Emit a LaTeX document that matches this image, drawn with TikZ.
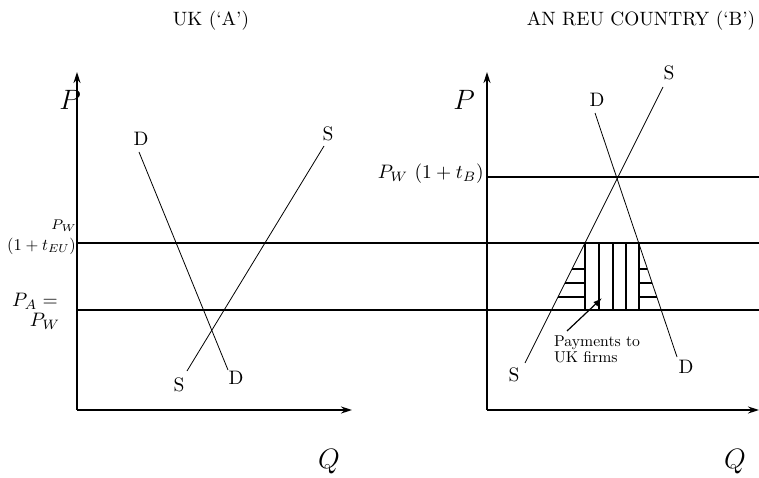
\RequirePackage{fix-cm}
\documentclass[tikz,border=0pt]{standalone}
\usepackage{graphicx}
\usetikzlibrary{arrows.meta}
\newcommand{\sclA}[1]{\scalebox{1.93}{#1}}
\newcommand{\sclB}[1]{\scalebox{1.95}{#1}}
\newcommand{\sclC}[1]{\scalebox{1.57}{#1}}
\newcommand{\sclD}[1]{\scalebox{1.65}{#1}}
\newcommand{\sclE}[1]{\scalebox{2.0}{#1}}
\tikzset{
  axisline/.style={line width=1.6pt,-{Stealth[length=11pt,width=7pt]}},
  thickline/.style={line width=2.4pt},
  thinline/.style={line width=1.3pt},
  curveline/.style={line width=0.8pt},
  hatchline/.style={line width=1.8pt},
  lbl/.style={inner sep=0pt},
  biglbl/.style={font=\fontsize{28}{30}\selectfont,inner sep=0pt},
  ptr/.style={line width=1.2pt,-{Latex[length=9pt,width=6pt]}}
}
\begin{document}
\begin{tikzpicture}[x=1pt,y=-1pt]
\useasboundingbox (0,0) rectangle (759,478);
% titles
\node[lbl] (tA) at (211,21) {\sclA{UK (`A')}};
\node[lbl] (tB) at (641,21) {\sclA{AN REU COUNTRY (`B')}};
% axes
\coordinate (O1) at (77,410);
\coordinate (Y1) at (77,72);
\coordinate (X1) at (352,410);
\coordinate (O2) at (487,410);
\coordinate (Y2) at (487,72);
\coordinate (X2) at (759,410);
\draw[axisline] (O1) -- (Y1);
\draw[axisline] (O1) -- (X1);
\draw[axisline] (O2) -- (Y2);
\draw[axisline] (O2) -- (X2);
\node[biglbl] (P1) at (70,100) {$P$};
\node[biglbl] (Q1) at (329,462) {$Q$};
\node[biglbl] (P2) at (464,100) {$P$};
\node[biglbl] (Q2) at (735,462) {$Q$};
% horizontal price lines
\coordinate (h1a) at (77,243);  \coordinate (h1b) at (759,243);
\coordinate (h2a) at (77,310);  \coordinate (h2b) at (759,310);
\coordinate (h3a) at (487,177); \coordinate (h3b) at (759,177);
\draw[thinline] (h1a) -- (h1b);
\draw[thickline] (h2a) -- (h2b);
\draw[thickline] (h3a) -- (h3b);
% left price labels
\node[lbl] (pw1) at (64,226) {\sclE{$\scriptstyle P_W$}};
\node[lbl,anchor=east] (teu) at (76,246) {\sclD{$(1+t_{EU})$}};
\node[lbl] (pa) at (35,301) {\sclB{$P_A=$}};
\node[lbl] (pw2) at (45,321) {\sclB{$P_W$}};
\node[lbl,anchor=east] (ptb) at (484,174) {\sclB{$P_W\ (1+t_B)$}};
% left supply and demand
\coordinate (dl1) at (139,152); \coordinate (dl2) at (228,370);
\coordinate (sl1) at (187,371); \coordinate (sl2) at (324,146);
\draw[curveline] (dl1) -- (dl2);
\draw[curveline] (sl1) -- (sl2);
\node[lbl] (Dl1) at (141,139) {\sclB{D}};
\node[lbl] (Dl2) at (236,378) {\sclB{D}};
\node[lbl] (Sl1) at (328,134) {\sclB{S}};
\node[lbl] (Sl2) at (179,385) {\sclB{S}};
% right supply and demand
\coordinate (dr1) at (595,113); \coordinate (dr2) at (677,357);
\coordinate (sr1) at (525,363); \coordinate (sr2) at (663,87);
\draw[curveline] (dr1) -- (dr2);
\draw[curveline] (sr1) -- (sr2);
\node[lbl] (Dr1) at (597,100) {\sclB{D}};
\node[lbl] (Dr2) at (686,367) {\sclB{D}};
\node[lbl] (Sr1) at (669,73) {\sclB{S}};
\node[lbl] (Sr2) at (514,375) {\sclB{S}};
% hatching: vertical
\foreach \x in {585,599,613,626,639} {
  \draw[hatchline] (\x,243) -- (\x,310);
}
% hatching: horizontal triangles
\draw[hatchline] (572,269) -- (585,269);
\draw[hatchline] (565,283) -- (585,283);
\draw[hatchline] (558,297) -- (585,297);
\draw[hatchline] (639,269) -- (647.4,269);
\draw[hatchline] (639,283) -- (652.1,283);
\draw[hatchline] (639,297) -- (656.8,297);
% payments note
\node[lbl,anchor=north west] (pay) at (554,333) {\sclC{\begin{tabular}{@{}l@{}}Payments to\\[-2pt]UK firms\end{tabular}}};
\coordinate (paytip) at (602,298);
\draw[ptr] (567,331) -- (paytip);
\end{tikzpicture}
\end{document}
